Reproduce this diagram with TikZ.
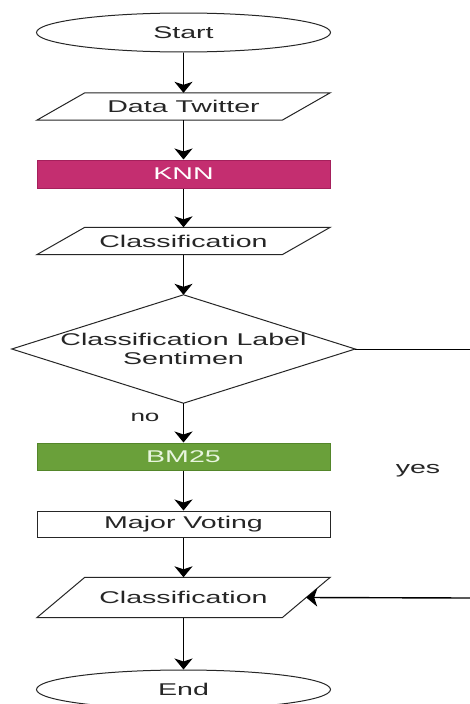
\documentclass[tikz,border=0pt]{standalone}
\usepackage{fontspec}
\setmainfont{Liberation Sans}[FakeStretch=1.68]
\usetikzlibrary{shapes.geometric,arrows.meta,calc}
\definecolor{knnfill}{RGB}{196,46,112}
\definecolor{knnline}{RGB}{165,32,92}
\definecolor{bmfill}{RGB}{106,160,58}
\definecolor{bmline}{RGB}{84,134,42}
\definecolor{bmtext}{RGB}{232,245,222}
\begin{document}
\begin{tikzpicture}[x=1pt,y=-1pt,
  every node/.style={font=\fontsize{17}{18.5}\selectfont, text=black!85, inner sep=0pt},
  flow/.style={draw=black, line width=1.4pt, -{Stealth[length=11pt,width=18pt,inset=3pt]}},
  term/.style={ellipse, draw=black!85, line width=1pt, minimum width=294pt, minimum height=39pt},
  iobox/.style={rectangle, minimum width=293pt},
  procbox/.style={rectangle, minimum width=293pt, line width=1pt},
  outline/.style={draw=black!85, line width=1pt}]

  % canvas
  \fill[white] (0,0) rectangle (470,704);
  \useasboundingbox (0,0) rectangle (470,704);

  % nodes
  \node[term] (start) at (183.5,32.5) {Start};
  \node[iobox, minimum height=27pt] (dt) at (183.5,106.5) {Data Twitter};
  \node[procbox, minimum height=28pt, fill=knnfill, draw=knnline, text=white] (knn) at (183.5,174) {KNN};
  \node[iobox, minimum height=27pt] (c1) at (183.5,241) {Classification};
  \node[rectangle, minimum width=343pt, minimum height=108pt, align=center] (dec) at (183.5,349)
    {Classification Label\\Sentimen};
  \node[procbox, minimum height=27pt, fill=bmfill, draw=bmline, text=bmtext] (bm) at (183.5,456.5) {BM25};
  \node[procbox, minimum height=26pt, draw=black!85] (mv) at (183.5,524) {Major Voting};
  \node[iobox, minimum height=40pt] (c2) at (183.5,597.5) {Classification};
  \node[term] (end) at (183.5,689.5) {End};

  % parallelogram outlines of the data nodes
  \foreach \n in {dt,c1,c2}
    \draw[outline] ([xshift=48pt]\n.north west) -- (\n.north east)
      -- ([xshift=-48pt]\n.south east) -- (\n.south west) -- cycle;

  % decision outline
  \draw[outline] (dec.north) -- (dec.east) -- (dec.south) -- (dec.west) -- cycle;

  % branch labels
  \node[font=\fontsize{15.5}{18}\selectfont] (no) at (145,417) {no};
  \node (yes) at (418,471) {yes};

  % connectors
  \draw[flow] (start) -- (dt);
  \draw[flow] (dt) -- (knn);
  \draw[flow] (knn) -- (c1);
  \draw[flow] (c1) -- (dec.north);
  \draw[flow] (dec.south) -- (bm);
  \draw[flow] (bm) -- (mv);
  \draw[flow] (mv) -- (c2);
  \draw[flow] (c2) -- (end);

  \coordinate (rimA) at (470,349);
  \coordinate (rimB) at (470,598);
  \draw[line width=1pt] (dec.east) -- (rimA);
  \draw[flow] (rimB) -- ($(c2.north east)!0.5!([xshift=-48pt]c2.south east)$);
\end{tikzpicture}
\end{document}
